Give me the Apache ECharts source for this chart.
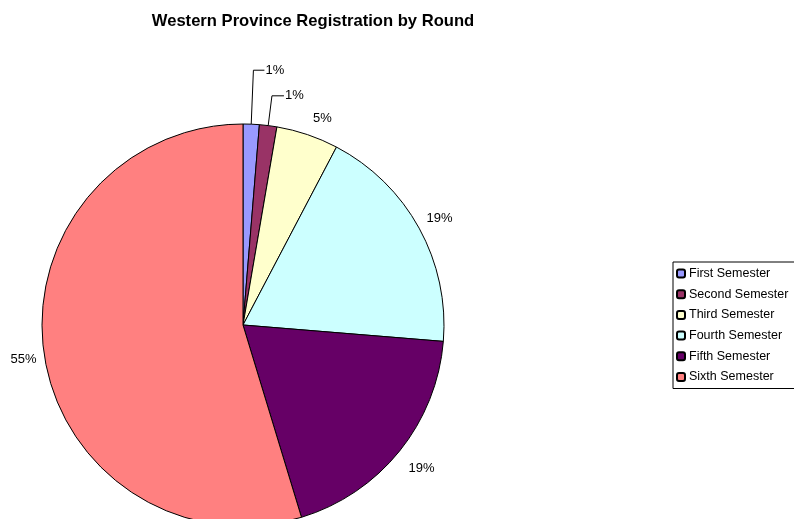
<!DOCTYPE html>
<html><head><meta charset="utf-8">
<script src="https://cdn.jsdelivr.net/npm/echarts@6/dist/echarts.min.js"></script>
<style>html,body{margin:0;padding:0;background:#fff}#c{width:794px;height:519px}</style>
</head><body><div id="c"></div>
<script>
const titleText = 'Western Province Registration by Round';
const categories = ['First Semester','Second Semester','Third Semester','Fourth Semester','Fifth Semester','Sixth Semester'];
const values = [1.3, 1.4, 5.0, 18.6, 19.0, 54.7];
const colors = ['#9999FF','#993366','#FFFFCC','#CCFFFF','#660066','#FF8080'];
const lineLens = [[54,11],[30,12],[17,0],[21,0],[27,0],[36,0]];
const labelGaps = [1,1,0,-11,-12,-28];
const showLines = [true,true,false,false,false,false];

const total = values.reduce((a,b)=>a+b,0);
const chart = echarts.init(document.getElementById('c'));
chart.setOption({
  animation:false,
  title:{text:titleText,left:308,top:8,textAlign:'center',textStyle:{fontFamily:'Liberation Sans, Arial',fontSize:16.6,fontWeight:'bold',color:'#000'}},
  legend:{orient:'vertical',left:673,top:262,padding:[5,40,5,3],itemWidth:8,itemHeight:8,itemGap:7.7,
    borderColor:'#000',borderWidth:1,borderRadius:0,
    textStyle:{fontFamily:'Liberation Sans, Arial',fontSize:12.5,color:'#000',padding:[0,0,0,-1]},
    data:categories},
  series:[{type:'pie',center:[243,325],radius:201,startAngle:90,clockwise:true,
    avoidLabelOverlap:false,
    itemStyle:{borderColor:'#000',borderWidth:1},
    label:{show:true,position:'outside',fontFamily:'Liberation Sans, Arial',fontSize:13,color:'#000',
      formatter:p=>Math.round(p.value/total*100)+'%'},
    data:categories.map((n,i)=>({name:n,value:values[i],itemStyle:{color:colors[i]},
      label:{distanceToLabelLine:labelGaps[i]},
      labelLine:{show:showLines[i],length:lineLens[i][0],length2:lineLens[i][1],smooth:false,lineStyle:{color:'#000',width:1}}})),
    emphasis:{disabled:true}
  }]
});
</script></body></html>
